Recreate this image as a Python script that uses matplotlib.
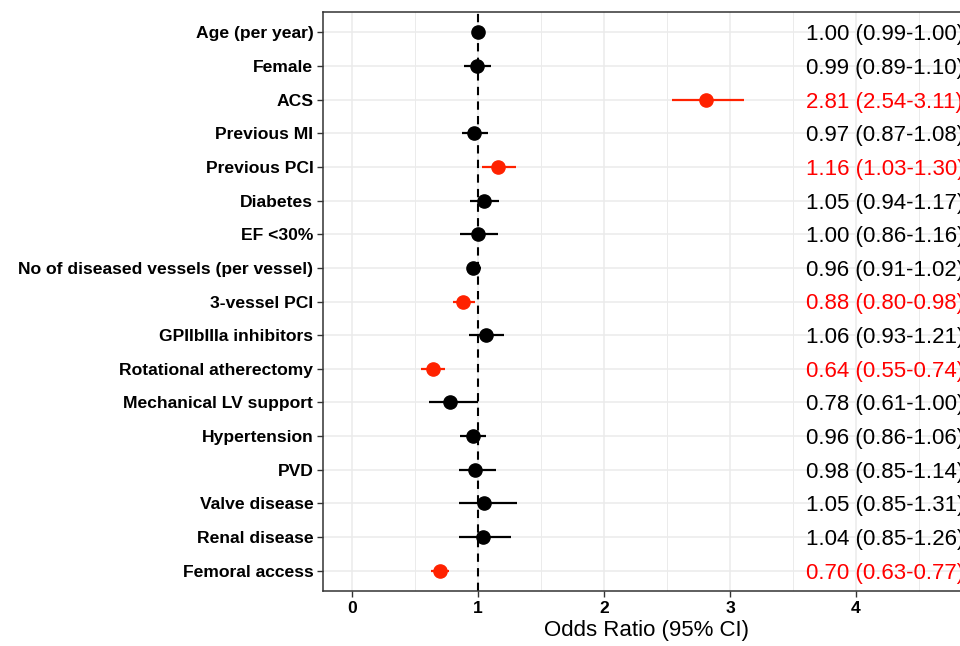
import numpy as np
import matplotlib
matplotlib.use("Agg")
from matplotlib import pyplot as plt

labels = ["Age (per year)", "Female", "ACS", "Previous MI", "Previous PCI", "Diabetes",
          "EF <30%", "No of diseased vessels (per vessel)", "3-vessel PCI",
          "GPIIbIIIa inhibitors", "Rotational atherectomy", "Mechanical LV support",
          "Hypertension", "PVD", "Valve disease", "Renal disease", "Femoral access"]
odds = [1.00, 0.99, 2.81, 0.97, 1.16, 1.05, 1.00, 0.96, 0.88, 1.06, 0.64, 0.78,
        0.96, 0.98, 1.05, 1.04, 0.70]
lower = [0.99, 0.89, 2.54, 0.87, 1.03, 0.94, 0.86, 0.91, 0.80, 0.93, 0.55, 0.61,
         0.86, 0.85, 0.85, 0.85, 0.63]
upper = [1.00, 1.10, 3.11, 1.08, 1.30, 1.17, 1.16, 1.02, 0.98, 1.21, 0.74, 1.00,
         1.06, 1.14, 1.31, 1.26, 0.77]
significant = [False, False, True, False, True, False, False, False, True, False,
               True, False, False, False, False, False, True]
x_ticks = [0, 1, 2, 3, 4]

plt.rcParams['font.family'] = ['Liberation Sans', 'DejaVu Sans']

fig = plt.figure(figsize=(9.6, 6.46), dpi=100)
# panel runs a little past the right edge of the figure, like the reference crop
left_px, right_px, top_px, bot_px = 323, 971, 12, 591
ax = fig.add_axes([left_px/960, 1 - bot_px/646, (right_px - left_px)/960, (bot_px - top_px)/646])

n = len(labels)
ypos = np.arange(n)[::-1] + 1
XPX = 126.0  # pixels per unit
x0 = 1 - (478 - left_px)/XPX
x1 = 1 + (right_px - 478)/XPX
ax.set_xlim(x0, x1)
ax.set_ylim(0.4, n + 0.6)

grid_c = '#EBEBEB'
for v in np.arange(0, 5.5, 0.5):
    ax.axvline(v, color=grid_c, lw=1.1 if v % 1 == 0 else 0.7, zorder=0)
for y in ypos:
    ax.axhline(y, color=grid_c, lw=1.1, zorder=0)

ax.axvline(1, color='black', lw=1.5, ls=(0, (4, 3)), zorder=1)

red_pt = '#FF2200'
for y, o, lo, hi, sig in zip(ypos, odds, lower, upper, significant):
    c = red_pt if sig else 'black'
    ax.plot([lo, hi], [y, y], color=c, lw=1.6, zorder=2, solid_capstyle='butt')
    ax.plot(o, y, 'o', color=c, ms=9.5, zorder=3)
    ax.text(3.6, y, "%.2f (%.2f-%.2f)" % (o, lo, hi), color='red' if sig else 'black',
            fontsize=16, va='center_baseline', ha='left', clip_on=False)

ax.set_yticks(ypos)
ax.set_yticklabels(labels, fontweight='bold', fontsize=12.6)
ax.set_xticks(x_ticks)
ax.set_xticklabels([str(t) for t in x_ticks], fontweight='bold', fontsize=12.6)
ax.tick_params(axis='both', color='#333333', length=4, width=1, pad=3)
ax.set_xlabel("Odds Ratio (95% CI)", fontsize=16, labelpad=3)

for s in ['left', 'bottom', 'top']:
    ax.spines[s].set_color('#333333')
    ax.spines[s].set_linewidth(1.1)
ax.spines['right'].set_visible(False)

fig.savefig("out.png", dpi=100)
